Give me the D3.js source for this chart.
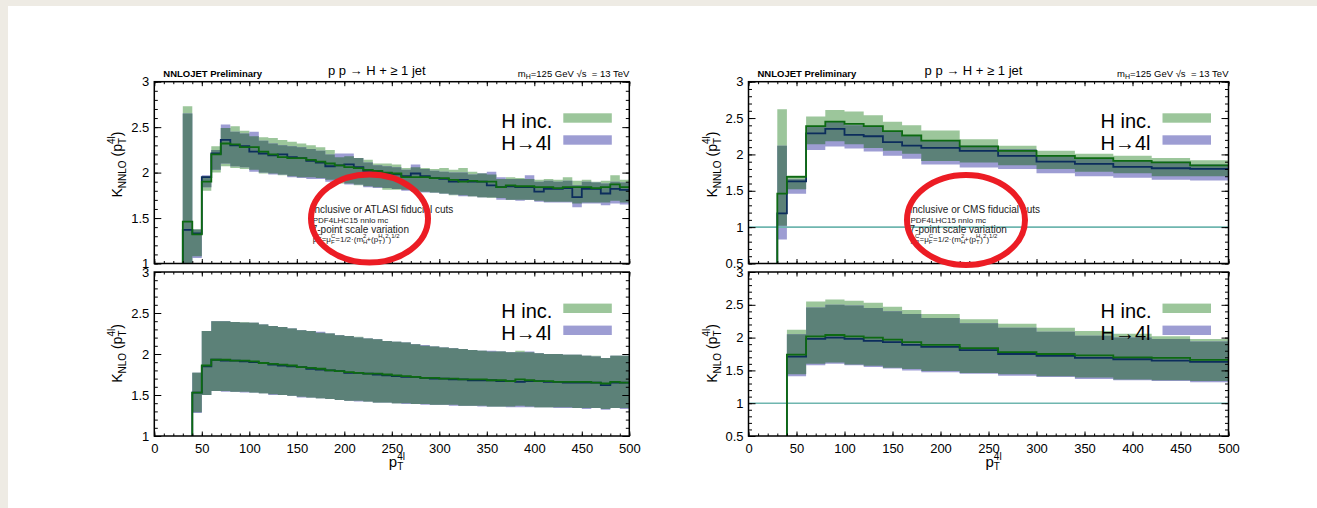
<!DOCTYPE html>
<html>
<head>
<meta charset="utf-8">
<script src="https://cdn.jsdelivr.net/npm/d3@7"></script>
<style>
  html, body { margin: 0; padding: 0; background: #fff; overflow: hidden; }
  svg { display: block; }
</style>
</head>
<body>
<svg id="chart" width="1317" height="508"></svg>
<script>
// ---- ATLAS cuts, NNLO/NLO K-factors (10 GeV bins) ----
const atlasNnloEdges = [30, 40, 50, 60, 70, 80, 90, 100, 110, 120, 130, 140, 150, 160, 170, 180, 190, 200, 210, 220, 230, 240, 250, 260, 270, 280, 290, 300, 310, 320, 330, 340, 350, 360, 370, 380, 390, 400, 410, 420, 430, 440, 450, 460, 470, 480, 490, 500];
const atlasNnloIncLine = [1.46, 1.32, 1.90, 2.20, 2.32, 2.31, 2.28, 2.28, 2.23, 2.20, 2.17, 2.16, 2.16, 2.14, 2.12, 2.10, 2.08, 2.06, 2.05, 2.03, 2.02, 2.00, 1.99, 1.95, 1.95, 1.95, 1.94, 1.94, 1.92, 1.90, 1.91, 1.90, 1.90, 1.84, 1.86, 1.85, 1.85, 1.84, 1.84, 1.83, 1.84, 1.84, 1.84, 1.83, 1.84, 1.87, 1.84];
const atlasNnloIncLo = [0.90, 1.08, 1.80, 2.00, 2.07, 2.05, 2.04, 2.03, 1.99, 1.99, 1.97, 1.96, 1.95, 1.95, 1.94, 1.92, 1.88, 1.88, 1.86, 1.85, 1.84, 1.81, 1.81, 1.81, 1.79, 1.79, 1.78, 1.77, 1.75, 1.75, 1.74, 1.73, 1.72, 1.72, 1.70, 1.70, 1.70, 1.69, 1.68, 1.68, 1.68, 1.66, 1.67, 1.67, 1.67, 1.69, 1.67];
const atlasNnloIncHi = [2.73, 1.38, 1.96, 2.29, 2.49, 2.51, 2.46, 2.40, 2.39, 2.38, 2.36, 2.34, 2.32, 2.30, 2.28, 2.25, 2.17, 2.18, 2.16, 2.14, 2.10, 2.10, 2.09, 2.05, 2.06, 2.05, 2.04, 2.05, 2.03, 2.05, 2.01, 1.99, 1.98, 1.93, 1.95, 1.94, 1.93, 1.92, 1.93, 1.92, 1.95, 1.91, 1.92, 1.90, 1.91, 1.97, 1.92];
const atlasNnlo4lLine = [1.37, 1.33, 1.95, 2.21, 2.36, 2.30, 2.29, 2.23, 2.21, 2.19, 2.20, 2.17, 2.16, 2.13, 2.11, 2.07, 2.08, 2.09, 2.06, 2.02, 2.01, 1.99, 1.98, 1.96, 1.99, 1.96, 1.94, 1.93, 1.90, 1.92, 1.90, 1.90, 1.86, 1.84, 1.85, 1.84, 1.84, 1.79, 1.82, 1.82, 1.83, 1.73, 1.82, 1.82, 1.77, 1.82, 1.81];
const atlasNnlo4lLo = [0.90, 1.06, 1.84, 2.03, 2.10, 2.07, 2.06, 2.01, 2.00, 1.98, 1.98, 1.95, 1.94, 1.93, 1.93, 1.90, 1.90, 1.87, 1.87, 1.84, 1.83, 1.83, 1.82, 1.80, 1.80, 1.78, 1.78, 1.77, 1.76, 1.74, 1.74, 1.73, 1.73, 1.70, 1.70, 1.69, 1.70, 1.68, 1.67, 1.67, 1.67, 1.62, 1.66, 1.66, 1.64, 1.66, 1.65];
const atlasNnlo4lHi = [2.65, 1.37, 1.97, 2.25, 2.53, 2.45, 2.43, 2.45, 2.35, 2.32, 2.30, 2.29, 2.28, 2.26, 2.24, 2.20, 2.21, 2.21, 2.16, 2.11, 2.08, 2.07, 2.06, 2.03, 2.09, 2.04, 2.02, 2.01, 2.00, 2.00, 1.98, 1.99, 2.01, 1.95, 1.93, 1.93, 1.97, 1.90, 1.91, 1.90, 1.91, 1.86, 1.90, 1.89, 1.88, 1.90, 1.89];

const atlasNloEdges = [40, 50, 60, 70, 80, 90, 100, 110, 120, 130, 140, 150, 160, 170, 180, 190, 200, 210, 220, 230, 240, 250, 260, 270, 280, 290, 300, 310, 320, 330, 340, 350, 360, 370, 380, 390, 400, 410, 420, 430, 440, 450, 460, 470, 480, 490, 500];
const atlasNloIncLine = [1.53, 1.86, 1.93, 1.93, 1.92, 1.92, 1.91, 1.89, 1.88, 1.87, 1.86, 1.84, 1.83, 1.82, 1.80, 1.79, 1.78, 1.77, 1.76, 1.76, 1.75, 1.74, 1.73, 1.72, 1.71, 1.71, 1.70, 1.70, 1.69, 1.69, 1.69, 1.68, 1.68, 1.67, 1.69, 1.68, 1.67, 1.67, 1.66, 1.66, 1.66, 1.66, 1.65, 1.64, 1.66, 1.65];
const atlasNloIncLo = [1.29, 1.50, 1.55, 1.55, 1.54, 1.54, 1.53, 1.52, 1.51, 1.50, 1.49, 1.48, 1.47, 1.46, 1.45, 1.44, 1.43, 1.43, 1.42, 1.41, 1.41, 1.40, 1.40, 1.39, 1.39, 1.38, 1.38, 1.38, 1.37, 1.37, 1.37, 1.36, 1.36, 1.36, 1.37, 1.36, 1.35, 1.35, 1.35, 1.35, 1.34, 1.34, 1.34, 1.33, 1.34, 1.34];
const atlasNloIncHi = [1.77, 2.28, 2.40, 2.40, 2.39, 2.39, 2.38, 2.36, 2.34, 2.33, 2.31, 2.29, 2.28, 2.26, 2.25, 2.23, 2.22, 2.21, 2.19, 2.18, 2.16, 2.15, 2.14, 2.12, 2.10, 2.09, 2.08, 2.07, 2.06, 2.05, 2.04, 2.03, 2.03, 2.02, 2.04, 2.02, 2.01, 2.00, 2.00, 1.99, 1.99, 1.98, 1.98, 1.95, 1.98, 1.98];
const atlasNlo4lLine = [1.53, 1.85, 1.93, 1.92, 1.92, 1.91, 1.90, 1.89, 1.87, 1.86, 1.85, 1.84, 1.82, 1.81, 1.80, 1.79, 1.77, 1.77, 1.76, 1.75, 1.74, 1.73, 1.72, 1.72, 1.71, 1.70, 1.70, 1.69, 1.69, 1.68, 1.68, 1.68, 1.67, 1.67, 1.66, 1.67, 1.67, 1.66, 1.66, 1.65, 1.65, 1.65, 1.65, 1.62, 1.65, 1.65];
const atlasNlo4lLo = [1.28, 1.50, 1.55, 1.54, 1.54, 1.53, 1.53, 1.52, 1.50, 1.50, 1.49, 1.47, 1.47, 1.46, 1.45, 1.44, 1.43, 1.42, 1.42, 1.41, 1.41, 1.40, 1.39, 1.39, 1.38, 1.38, 1.38, 1.37, 1.37, 1.37, 1.36, 1.36, 1.36, 1.35, 1.35, 1.35, 1.35, 1.35, 1.34, 1.34, 1.34, 1.33, 1.34, 1.32, 1.34, 1.33];
const atlasNlo4lHi = [1.77, 2.28, 2.40, 2.40, 2.39, 2.38, 2.38, 2.36, 2.34, 2.33, 2.31, 2.29, 2.28, 2.27, 2.25, 2.23, 2.22, 2.20, 2.19, 2.18, 2.16, 2.15, 2.14, 2.12, 2.11, 2.09, 2.08, 2.07, 2.06, 2.05, 2.04, 2.04, 2.03, 2.02, 2.02, 2.03, 2.01, 2.00, 2.00, 1.99, 1.99, 1.98, 1.97, 1.95, 1.98, 1.98];

// ---- CMS cuts, variable bins ----
const cmsNnloEdges = [30, 40, 60, 80, 100, 120, 140, 160, 180, 220, 260, 300, 340, 380, 420, 460, 500];
const cmsNnloIncLine = [1.46, 1.69, 2.39, 2.45, 2.42, 2.39, 2.32, 2.26, 2.19, 2.11, 2.05, 1.98, 1.95, 1.91, 1.89, 1.85];
const cmsNnloIncLo = [1.02, 1.52, 2.14, 2.18, 2.14, 2.09, 2.05, 2.01, 1.91, 1.89, 1.85, 1.80, 1.76, 1.74, 1.70, 1.70];
const cmsNnloIncHi = [2.62, 1.71, 2.52, 2.61, 2.59, 2.54, 2.45, 2.40, 2.33, 2.21, 2.12, 2.05, 2.01, 1.98, 1.95, 1.92];
const cmsNnlo4lLine = [1.19, 1.63, 2.29, 2.35, 2.27, 2.25, 2.17, 2.12, 2.09, 2.05, 1.98, 1.90, 1.87, 1.83, 1.81, 1.80];
const cmsNnlo4lLo = [0.83, 1.46, 2.06, 2.11, 2.08, 2.04, 1.98, 1.94, 1.86, 1.82, 1.80, 1.74, 1.70, 1.68, 1.65, 1.64];
const cmsNnlo4lHi = [2.12, 1.66, 2.39, 2.45, 2.40, 2.39, 2.31, 2.25, 2.20, 2.12, 2.07, 1.99, 1.95, 1.92, 1.90, 1.86];

const cmsNloEdges = [40, 60, 80, 100, 120, 140, 160, 180, 220, 260, 300, 340, 380, 420, 460, 500];
const cmsNloIncLine = [1.74, 2.02, 2.04, 2.02, 2.00, 1.97, 1.93, 1.89, 1.84, 1.78, 1.75, 1.73, 1.70, 1.69, 1.66];
const cmsNloIncLo = [1.44, 1.60, 1.62, 1.59, 1.57, 1.54, 1.52, 1.49, 1.46, 1.44, 1.41, 1.39, 1.36, 1.35, 1.34];
const cmsNloIncHi = [2.12, 2.55, 2.58, 2.56, 2.53, 2.47, 2.42, 2.36, 2.28, 2.21, 2.15, 2.10, 2.06, 2.02, 1.98];
const cmsNlo4lLine = [1.71, 1.98, 2.00, 1.98, 1.95, 1.93, 1.89, 1.86, 1.81, 1.75, 1.72, 1.69, 1.67, 1.65, 1.63];
const cmsNlo4lLo = [1.41, 1.58, 1.60, 1.58, 1.55, 1.53, 1.50, 1.47, 1.45, 1.42, 1.40, 1.37, 1.35, 1.34, 1.32];
const cmsNlo4lHi = [2.05, 2.46, 2.50, 2.49, 2.45, 2.40, 2.36, 2.30, 2.22, 2.15, 2.09, 2.03, 2.00, 1.98, 1.94];

const xTicks = [0, 50, 100, 150, 200, 250, 300, 350, 400, 450, 500];
const legendLabels = ['H inc.', 'H\u21924l'];

const FONT = '"Liberation Sans", Arial, Helvetica, sans-serif';
const COLORS = {
  inc: '#9cc69b',
  h4l: '#9d9dd3',
  both: '#5c8178',
  incLine: '#0d6a12',
  h4lLine: '#0c2d5c',
  ref: '#6fb6af',
  circle: '#ec1c24'
};

const svg = d3.select('#chart');
// beige slide margin on the left and top only
svg.append('rect')
  .attr('x', 0).attr('y', 0)
  .attr('width', 1317).attr('height', 508)
  .attr('fill', '#eeebe4');
svg.append('rect')
  .attr('x', 8).attr('y', 6)
  .attr('width', 1400).attr('height', 600)
  .attr('fill', '#fff');

// text with sub/superscripts; seg: {t, size, shift, over}
function richText(g, x, y, segs, opts = {}) {
  const text = g.append('text')
    .attr('x', x).attr('y', y)
    .attr('font-family', FONT)
    .attr('fill', '#000')
    .attr('text-anchor', opts.anchor || 'start');
  if (opts.rotate) text.attr('transform', `rotate(-90, ${x}, ${y})`);
  let cur = 0;
  let prev = null;
  segs.forEach(s => {
    const shift = s.shift || 0;
    const ts = text.append('tspan')
      .attr('font-size', s.size)
      .attr('dy', shift - cur)
      .text(s.t);
    if (s.over && prev) ts.attr('dx', -prev.node().getComputedTextLength());
    cur = shift;
    prev = ts;
  });
  return text;
}

function drawPlot(p) {
  const x = d3.scaleLinear().domain([0, 500]).range([p.left, p.right]);
  const y = d3.scaleLinear().domain(p.yDomain).range([p.bottom, p.top]);

  const clipId = 'clip-' + p.id;
  svg.append('clipPath').attr('id', clipId).append('rect')
    .attr('x', p.left).attr('y', p.top)
    .attr('width', p.right - p.left).attr('height', p.bottom - p.top);

  const bins = p.edges.slice(0, -1).map((e, i) => ({
    x0: e, x1: p.edges[i + 1],
    incLine: p.inc.line[i], incLo: p.inc.lo[i], incHi: p.inc.hi[i],
    hLine: p.h4l.line[i], hLo: p.h4l.lo[i], hHi: p.h4l.hi[i]
  }));

  const plot = svg.append('g').attr('clip-path', `url(#${clipId})`);

  const stepArea = (lo, hi) => {
    const pts = bins.flatMap(d => {
      const l = lo(d), h = Math.max(hi(d), l);
      return [{ x: d.x0, l, h }, { x: d.x1, l, h }];
    });
    return d3.area().x(d => x(d.x)).y0(d => y(d.l)).y1(d => y(d.h))(pts);
  };

  plot.append('path').attr('d', stepArea(d => d.incLo, d => d.incHi)).attr('fill', COLORS.inc);
  plot.append('path').attr('d', stepArea(d => d.hLo, d => d.hHi)).attr('fill', COLORS.h4l);
  plot.append('path')
    .attr('d', stepArea(d => Math.max(d.incLo, d.hLo), d => Math.min(d.incHi, d.hHi)))
    .attr('fill', COLORS.both);

  if (p.refLine) {
    plot.append('line')
      .attr('x1', p.left).attr('x2', p.right)
      .attr('y1', y(1)).attr('y2', y(1))
      .attr('stroke', COLORS.ref).attr('stroke-width', 1.6);
  }

  const stepLine = key => {
    const pts = [[p.edges[0], p.yDomain[0] - 1]]
      .concat(bins.flatMap(d => [[d.x0, d[key]], [d.x1, d[key]]]));
    return d3.line().x(d => x(d[0])).y(d => y(d[1]))(pts);
  };
  plot.append('path').attr('d', stepLine('hLine'))
    .attr('fill', 'none').attr('stroke', COLORS.h4lLine).attr('stroke-width', 1.8);
  plot.append('path').attr('d', stepLine('incLine'))
    .attr('fill', 'none').attr('stroke', COLORS.incLine).attr('stroke-width', 1.8);

  // axes, ROOT style: ticks on all four sides pointing inwards
  const yMajor = d3.range(Math.round(p.yDomain[0] * 2), Math.round(p.yDomain[1] * 2) + 1).map(v => v / 2);
  const yMinor = d3.range(Math.round(p.yDomain[0] * 10), Math.round(p.yDomain[1] * 10) + 1).map(v => v / 10);
  const xMinor = d3.range(0, 51).map(v => v * 10);

  const styleAxis = g => {
    g.select('.domain').remove();
    g.selectAll('.tick line').attr('stroke', '#000').attr('stroke-width', 1);
    g.selectAll('.tick text')
      .attr('font-size', 13).attr('font-family', FONT).attr('fill', '#000');
  };

  const axes = svg.append('g');
  axes.append('g').attr('transform', `translate(${p.left},0)`)
    .call(d3.axisLeft(y).tickValues(yMajor).tickSize(-7).tickPadding(5).tickFormat(d3.format('~g')))
    .call(styleAxis);
  axes.append('g').attr('transform', `translate(${p.left},0)`)
    .call(d3.axisLeft(y).tickValues(yMinor).tickSize(-3.5).tickFormat(''))
    .call(styleAxis);
  axes.append('g').attr('transform', `translate(${p.right},0)`)
    .call(d3.axisRight(y).tickValues(yMajor).tickSize(-7).tickFormat(''))
    .call(styleAxis);
  axes.append('g').attr('transform', `translate(${p.right},0)`)
    .call(d3.axisRight(y).tickValues(yMinor).tickSize(-3.5).tickFormat(''))
    .call(styleAxis);
  axes.append('g').attr('transform', `translate(0,${p.bottom})`)
    .call(d3.axisBottom(x).tickValues(xTicks).tickSize(-4.5).tickPadding(8)
      .tickFormat(p.xLabels ? d3.format('d') : ''))
    .call(styleAxis);
  axes.append('g').attr('transform', `translate(0,${p.bottom})`)
    .call(d3.axisBottom(x).tickValues(xMinor).tickSize(-2.5).tickFormat(''))
    .call(styleAxis);
  axes.append('g').attr('transform', `translate(0,${p.top})`)
    .call(d3.axisTop(x).tickValues(xTicks).tickSize(-4.5).tickFormat(''))
    .call(styleAxis);
  axes.append('g').attr('transform', `translate(0,${p.top})`)
    .call(d3.axisTop(x).tickValues(xMinor).tickSize(-2.5).tickFormat(''))
    .call(styleAxis);

  svg.append('rect')
    .attr('x', p.left).attr('y', p.top)
    .attr('width', p.right - p.left).attr('height', p.bottom - p.top)
    .attr('fill', 'none').attr('stroke', '#000').attr('stroke-width', 1.5);

  // legend
  const lg = svg.append('g');
  const base = p.top + 46.3;
  [COLORS.inc, COLORS.h4l].forEach((c, i) => {
    lg.append('rect')
      .attr('x', p.right - 66).attr('y', base - 14.7 + i * 22)
      .attr('width', 48.5).attr('height', 9.4)
      .attr('fill', c);
    lg.append('text')
      .attr('x', p.right - 128).attr('y', base + i * 21.5)
      .attr('font-family', FONT).attr('font-size', 20)
      .attr('fill', '#000')
      .text(legendLabels[i]);
  });

  // y-axis title
  richText(svg, p.left - 32, p.yTitleY, [
    { t: 'K', size: 14 },
    { t: p.order, size: 10, shift: 4 },
    { t: ' (p', size: 14 },
    { t: 'T', size: 10, shift: 4 },
    { t: '4l', size: 10, shift: -7, over: true },
    { t: ')', size: 14 }
  ], { anchor: 'middle', rotate: true });

  if (p.xLabels) {
    richText(svg, (p.left + p.right) / 2 - 3, p.bottom + 31, [
      { t: 'p', size: 15 },
      { t: 'T', size: 10, shift: 3 },
      { t: '4l', size: 10, shift: -7, over: true }
    ]);
  }
  return { x, y };
}

function drawPanel(left, right, cuts, circle) {
  const top = 81.7, mid = 263.5, top2 = 272, bottom = 436;
  const atlas = cuts === 'ATLAS';
  drawPlot({
    id: cuts + '-nnlo', left, right, top, bottom: mid,
    yDomain: atlas ? [1, 3] : [0.5, 3],
    edges: atlas ? atlasNnloEdges : cmsNnloEdges,
    inc: atlas
      ? { line: atlasNnloIncLine, lo: atlasNnloIncLo, hi: atlasNnloIncHi }
      : { line: cmsNnloIncLine, lo: cmsNnloIncLo, hi: cmsNnloIncHi },
    h4l: atlas
      ? { line: atlasNnlo4lLine, lo: atlasNnlo4lLo, hi: atlasNnlo4lHi }
      : { line: cmsNnlo4lLine, lo: cmsNnlo4lLo, hi: cmsNnlo4lHi },
    refLine: !atlas,
    order: 'NNLO', yTitleY: 164.5, xLabels: false
  });
  drawPlot({
    id: cuts + '-nlo', left, right, top: top2, bottom,
    yDomain: atlas ? [1, 3] : [0.5, 3],
    edges: atlas ? atlasNloEdges : cmsNloEdges,
    inc: atlas
      ? { line: atlasNloIncLine, lo: atlasNloIncLo, hi: atlasNloIncHi }
      : { line: cmsNloIncLine, lo: cmsNloIncLo, hi: cmsNloIncHi },
    h4l: atlas
      ? { line: atlasNlo4lLine, lo: atlasNlo4lLo, hi: atlasNlo4lHi }
      : { line: cmsNlo4lLine, lo: cmsNlo4lLo, hi: cmsNlo4lHi },
    refLine: !atlas,
    order: 'NLO', yTitleY: 353.5, xLabels: true
  });

  // header line
  svg.append('text')
    .attr('x', left + 9).attr('y', 76.5)
    .attr('font-family', FONT).attr('font-size', 9.5).attr('font-weight', 'bold')
    .text('NNLOJET Preliminary');
  svg.append('text')
    .attr('x', (left + right) / 2 - 15).attr('y', 75)
    .attr('text-anchor', 'middle')
    .attr('font-family', FONT).attr('font-size', 13)
    .text('p p \u2192 H + \u2265 1 jet');
  richText(svg, right, 76.5, [
    { t: 'm', size: 9.5 },
    { t: 'H', size: 7, shift: 2.5 },
    { t: '=125 GeV \u221As\u00A0 = 13 TeV', size: 9.5 }
  ], { anchor: 'end' });

  // annotation block
  const ax = left + (atlas ? 157.4 : 161);
  const note = svg.append('g');
  note.append('text')
    .attr('x', ax).attr('y', 212.8)
    .attr('font-family', FONT).attr('font-size', 10).attr('fill', '#222')
    .text(atlas ? 'Inclusive or ATLASI fiducial cuts' : 'Inclusive or CMS fiducial cuts');
  note.append('text')
    .attr('x', ax + 1).attr('y', 222.8)
    .attr('font-family', FONT).attr('font-size', 8).attr('fill', '#222')
    .text('PDF4LHC15 nnlo mc');
  note.append('text')
    .attr('x', ax).attr('y', 232.5)
    .attr('font-family', FONT).attr('font-size', 10).attr('fill', '#222')
    .text('7-point scale variation');
  richText(note, ax + 1, 242.3, [
    { t: '\u03BC', size: 8 },
    { t: 'R', size: 6, shift: 2 },
    { t: 'C', size: 6, shift: -4, over: true },
    { t: '=\u03BC', size: 8 },
    { t: 'F', size: 6, shift: 2 },
    { t: 'C', size: 6, shift: -4, over: true },
    { t: '=1/2\u00B7(m', size: 8 },
    { t: 'H', size: 6, shift: 2 },
    { t: '2', size: 6, shift: -4, over: true },
    { t: '+(p', size: 8 },
    { t: 'T', size: 6, shift: 2 },
    { t: 'H', size: 6, shift: -4, over: true },
    { t: ')', size: 8 },
    { t: '2', size: 6, shift: -4 },
    { t: ')', size: 8 },
    { t: '1/2', size: 6, shift: -4 }
  ]).attr('fill', '#222');

  svg.append('ellipse')
    .attr('cx', circle.cx).attr('cy', circle.cy)
    .attr('rx', circle.rx).attr('ry', circle.ry)
    .attr('fill', 'none').attr('stroke', COLORS.circle).attr('stroke-width', 6);
}

drawPanel(154.3, 629.3, 'ATLAS', { cx: 369.5, cy: 218.5, rx: 58.5, ry: 44 });
drawPanel(748.5, 1228.5, 'CMS', { cx: 966, cy: 220, rx: 59, ry: 45 });
</script>
</body>
</html>
